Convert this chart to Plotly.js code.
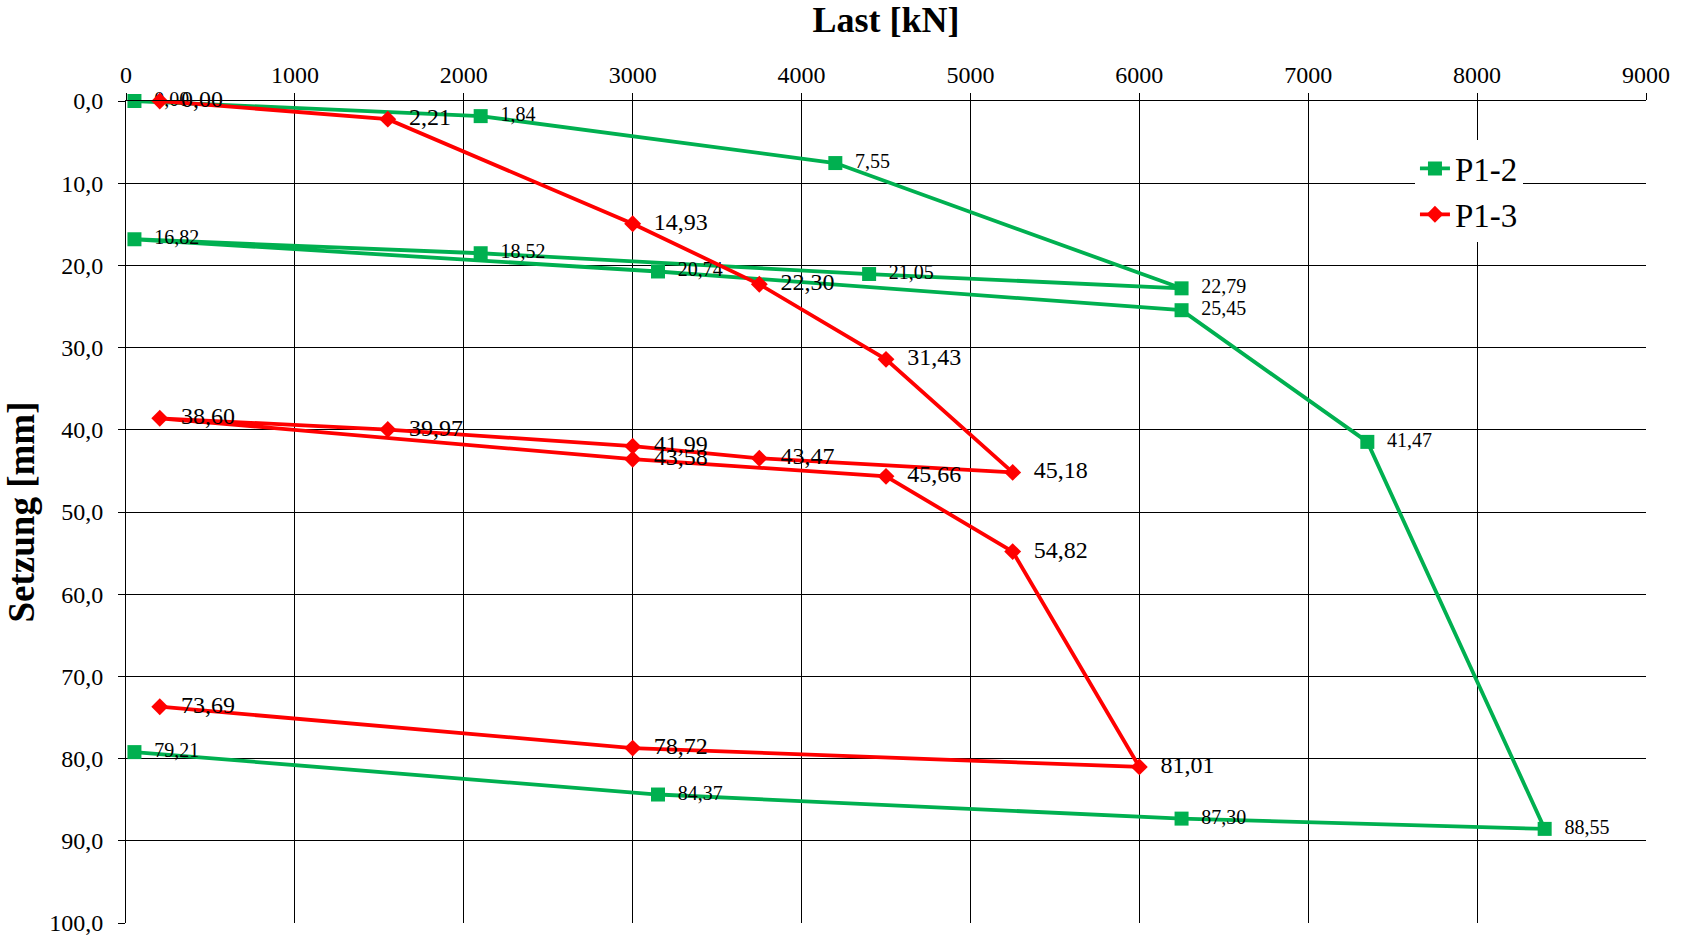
<!DOCTYPE html>
<html>
<head>
<meta charset="utf-8">
<script src="https://cdn.plot.ly/plotly-3.0.1.min.js"></script>
<style>html,body{margin:0;padding:0;background:#fff;}#chart{width:1686px;height:936px;}</style>
</head>
<body>
<div id="chart"></div>
<script>
// P1-2 : Last [kN] vs Setzung [mm]
var p12Last    = [50, 2100, 4200, 6250, 4400, 2100, 50, 3150, 6250, 7350, 8400, 6250, 3150, 50];
var p12Setzung = [0.00, 1.84, 7.55, 22.79, 21.05, 18.52, 16.82, 20.74, 25.45, 41.47, 88.55, 87.30, 84.37, 79.21];
// P1-3
var p13Last    = [200, 1550, 3000, 3750, 4500, 5250, 3750, 3000, 1550, 200, 3000, 4500, 5250, 6000, 3000, 200];
var p13Setzung = [0.00, 2.21, 14.93, 22.30, 31.43, 45.18, 43.47, 41.99, 39.97, 38.60, 43.58, 45.66, 54.82, 81.01, 78.72, 73.69];

var serif = 'Liberation Serif, Times New Roman, serif';

var traces = [
  {
    name: 'P1-2', x: p12Last, y: p12Setzung, type: 'scatter', mode: 'lines+markers+text',
    line: {color: '#00B050', width: 3.8},
    marker: {symbol: 'square', size: 14, color: '#00B050'},
    texttemplate: '  %{y:.2f}', textposition: 'middle right',
    textfont: {family: serif, size: 20, color: '#000'},
    cliponaxis: false
  },
  {
    name: 'P1-3', x: p13Last, y: p13Setzung, type: 'scatter', mode: 'lines+markers+text',
    line: {color: '#FF0000', width: 3.8},
    marker: {symbol: 'diamond', size: 13, color: '#FF0000'},
    texttemplate: '  %{y:.2f}', textposition: 'middle right',
    textfont: {family: serif, size: 24, color: '#000'},
    cliponaxis: false
  }
];

var layout = {
  width: 1686, height: 936,
  paper_bgcolor: '#fff', plot_bgcolor: '#fff',
  separators: ',.',
  font: {family: serif, color: '#000'},
  margin: {l: 126, r: 40, t: 101, b: 13},
  showlegend: true,
  legend: {
    x: 0.848, y: 0.952, xanchor: 'left', yanchor: 'top',
    bgcolor: '#fff', borderwidth: 0,
    font: {family: serif, size: 33, color: '#000'},
    itemclick: false
  },
  xaxis: {
    side: 'top', range: [0, 9000], dtick: 1000, tick0: 0,
    showgrid: true, gridcolor: '#000', gridwidth: 1,
    showline: true, linecolor: '#000', linewidth: 1, mirror: false,
    ticks: 'outside', ticklen: 7, tickcolor: '#000',
    tickfont: {family: serif, size: 24, color: '#000'},
    ticklabeloverflow: 'allow',
    zeroline: false,
    title: {text: '<b>Last [kN]</b>', font: {family: serif, size: 36, color: '#000'}, standoff: 20}
  },
  yaxis: {
    range: [100, 0], dtick: 10, tick0: 0, tickformat: '.1f',
    showgrid: true, gridcolor: '#000', gridwidth: 1,
    showline: true, linecolor: '#000', linewidth: 1,
    ticks: 'outside', ticklen: 7, tickcolor: '#000',
    ticklabelstandoff: 10,
    ticklabeloverflow: 'allow',
    tickfont: {family: serif, size: 24, color: '#000'},
    zeroline: false,
    title: {text: '<b>Setzung [mm]</b>', font: {family: serif, size: 37, color: '#000'}, standoff: 3}
  }
};

Plotly.newPlot('chart', traces, layout, {displayModeBar: false, staticPlot: true});
</script>
</body>
</html>
